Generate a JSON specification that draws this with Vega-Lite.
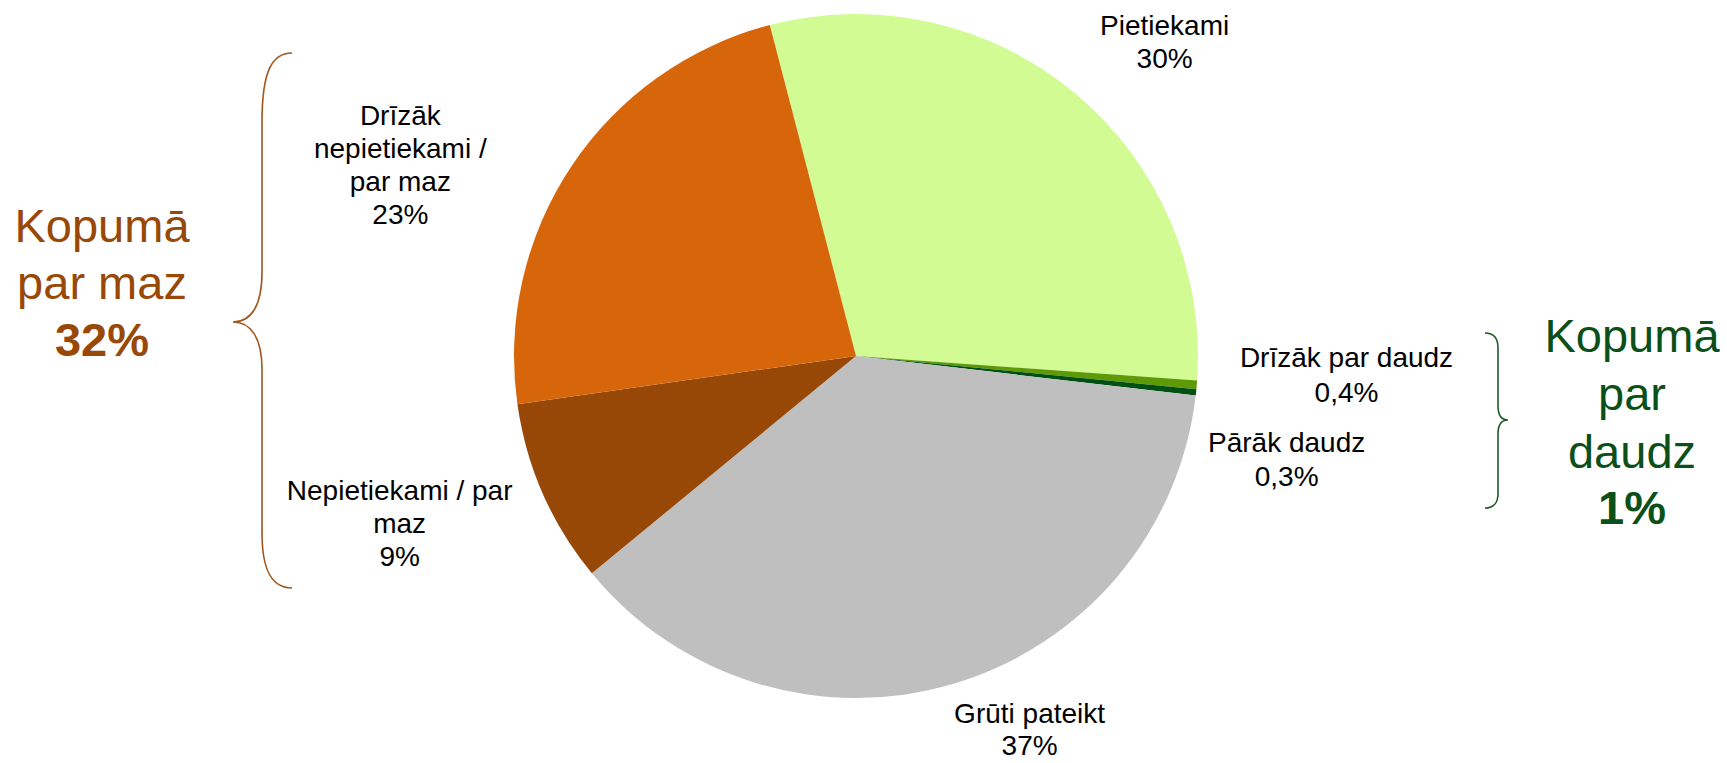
{
  "$schema": "https://vega.github.io/schema/vega-lite/v6.json",
  "autosize": {"type": "none"},
  "width": 1712,
  "height": 712,
  "padding": {"left": 0, "top": 0, "right": 15, "bottom": 51},
  "background": "white",
  "config": {"view": {"stroke": null}, "text": {"font": "Liberation Sans"}},
  "datasets": {
    "slices": [
      {"ord": 1, "category": "Pietiekami", "value": 30.2, "label": "Pietiekami\n30%"},
      {"ord": 2, "category": "Drīzāk par daudz", "value": 0.4, "label": "Drīzāk par daudz\n0,4%"},
      {"ord": 3, "category": "Pārāk daudz", "value": 0.3, "label": "Pārāk daudz\n0,3%"},
      {"ord": 4, "category": "Grūti pateikt", "value": 37.2, "label": "Grūti pateikt\n37%"},
      {"ord": 5, "category": "Nepietiekami / par maz", "value": 8.7, "label": "Nepietiekami / par\nmaz\n9%"},
      {"ord": 6, "category": "Drīzāk nepietiekami / par maz", "value": 23.2, "label": "Drīzāk\nnepietiekami /\npar maz\n23%"}
    ],
    "groups": [
      {"group": "maz", "title": "Kopumā\npar maz", "total": "32%"},
      {"group": "daudz", "title": "Kopumā\npar\ndaudz", "total": "1%"}
    ]
  },
  "data": {"name": "slices"},
  "layer": [
    {
      "mark": {"type": "arc", "radius": 342},
      "encoding": {
        "theta": {"field": "value", "type": "quantitative", "stack": true, "scale": {"range": [-0.2548, 6.0284]}},
        "order": {"field": "ord", "type": "quantitative"},
        "color": {
          "field": "category", "type": "nominal", "legend": null,
          "scale": {
            "domain": ["Pietiekami", "Drīzāk par daudz", "Pārāk daudz", "Grūti pateikt", "Nepietiekami / par maz", "Drīzāk nepietiekami / par maz"],
            "range": ["#D3FB94", "#5E9A08", "#005014", "#BFBFBF", "#974706", "#D7660A"]
          }
        }
      }
    },
    {
      "mark": {"type": "text", "radius": 420, "dx": 40, "dy": -6.5, "fontSize": 28, "lineBreak": "\n", "lineHeight": 33, "color": "black", "align": "center", "baseline": "middle"},
      "encoding": {
        "theta": {"field": "value", "type": "quantitative", "stack": true},
        "order": {"field": "ord", "type": "quantitative"},
        "text": {"condition": {"test": "datum.category === 'Pietiekami'", "field": "label", "type": "nominal"}, "value": ""}
      }
    },
    {
      "mark": {"type": "text", "radius": 420, "dx": 72, "dy": -32.5, "fontSize": 28, "lineBreak": "\n", "lineHeight": 35, "color": "black", "align": "center", "baseline": "middle"},
      "encoding": {
        "theta": {"field": "value", "type": "quantitative", "stack": true},
        "order": {"field": "ord", "type": "quantitative"},
        "text": {"condition": {"test": "datum.category === 'Drīzāk par daudz'", "field": "label", "type": "nominal"}, "value": ""}
      }
    },
    {
      "mark": {"type": "text", "radius": 420, "dx": 13, "dy": 43, "fontSize": 28, "lineBreak": "\n", "lineHeight": 34, "color": "black", "align": "center", "baseline": "middle"},
      "encoding": {
        "theta": {"field": "value", "type": "quantitative", "stack": true},
        "order": {"field": "ord", "type": "quantitative"},
        "text": {"condition": {"test": "datum.category === 'Pārāk daudz'", "field": "label", "type": "nominal"}, "value": ""}
      }
    },
    {
      "mark": {"type": "text", "radius": 420, "dx": 55, "dy": -44, "fontSize": 28, "lineBreak": "\n", "lineHeight": 32, "color": "black", "align": "center", "baseline": "middle"},
      "encoding": {
        "theta": {"field": "value", "type": "quantitative", "stack": true},
        "order": {"field": "ord", "type": "quantitative"},
        "text": {"condition": {"test": "datum.category === 'Grūti pateikt'", "field": "label", "type": "nominal"}, "value": ""}
      }
    },
    {
      "mark": {"type": "text", "radius": 420, "dx": -72, "dy": -33, "fontSize": 28, "lineBreak": "\n", "lineHeight": 33, "color": "black", "align": "center", "baseline": "middle"},
      "encoding": {
        "theta": {"field": "value", "type": "quantitative", "stack": true},
        "order": {"field": "ord", "type": "quantitative"},
        "text": {"condition": {"test": "datum.category === 'Nepietiekami / par maz'", "field": "label", "type": "nominal"}, "value": ""}
      }
    },
    {
      "mark": {"type": "text", "radius": 420, "dx": -106, "dy": -6.5, "fontSize": 28, "lineBreak": "\n", "lineHeight": 33, "color": "black", "align": "center", "baseline": "middle"},
      "encoding": {
        "theta": {"field": "value", "type": "quantitative", "stack": true},
        "order": {"field": "ord", "type": "quantitative"},
        "text": {"condition": {"test": "datum.category === 'Drīzāk nepietiekami / par maz'", "field": "label", "type": "nominal"}, "value": ""}
      }
    },
    {
      "data": {"name": "groups"},
      "transform": [{"filter": "datum.group === 'maz'"}],
      "layer": [
        {
          "mark": {"type": "text", "dx": -754, "dy": -128.5, "fontSize": 47, "lineBreak": "\n", "lineHeight": 57, "color": "#984807", "align": "center", "baseline": "middle"},
          "encoding": {"text": {"field": "title", "type": "nominal"}}
        },
        {
          "mark": {"type": "text", "dx": -754, "dy": -14, "fontSize": 47, "fontWeight": "bold", "color": "#984807", "align": "center", "baseline": "middle"},
          "encoding": {"text": {"field": "total", "type": "nominal"}}
        },
        {
          "mark": {"type": "point", "shape": "M -564 -303 C -584 -303 -594 -285 -594 -234 L -594 -84 C -594 -50 -605 -34 -623 -34 C -605 -34 -594 -18 -594 13 L -594 177 C -594 215 -584 232 -564 232", "size": 4, "filled": false, "stroke": "#A2561C", "strokeWidth": 1.6, "opacity": 1},
          "encoding": {}
        }
      ]
    },
    {
      "data": {"name": "groups"},
      "transform": [{"filter": "datum.group === 'daudz'"}],
      "layer": [
        {
          "mark": {"type": "text", "dx": 776, "dy": -18, "fontSize": 47, "lineBreak": "\n", "lineHeight": 58, "color": "#0A5018", "align": "center", "baseline": "middle"},
          "encoding": {"text": {"field": "title", "type": "nominal"}}
        },
        {
          "mark": {"type": "text", "dx": 776, "dy": 154, "fontSize": 47, "fontWeight": "bold", "color": "#0A5018", "align": "center", "baseline": "middle"},
          "encoding": {"text": {"field": "total", "type": "nominal"}}
        },
        {
          "mark": {"type": "point", "shape": "M 629 -23 C 637 -23 642 -18 642 -8 L 642 50 C 642 59 645 64 652 64 C 645 64 642 69 642 78 L 642 138 C 642 147 637 152 629 152", "size": 4, "filled": false, "stroke": "#1E5A28", "strokeWidth": 1.6, "opacity": 1},
          "encoding": {}
        }
      ]
    }
  ]
}
